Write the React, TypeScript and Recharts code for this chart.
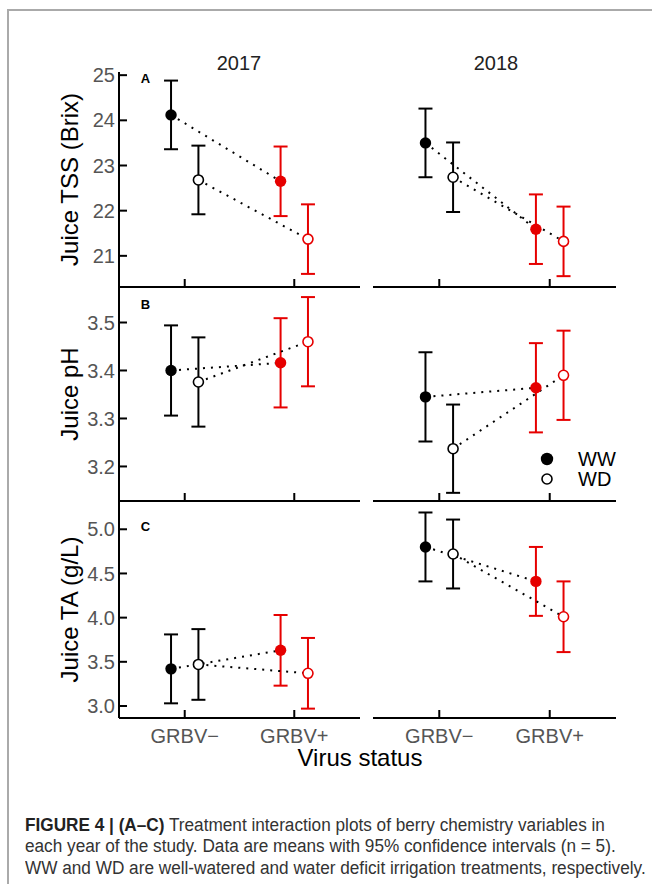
import React from 'react';
import { ScatterChart, Scatter, XAxis, YAxis, ErrorBar, Label } from 'recharts';

const VIRUS = ['GRBV−', 'GRBV+'];
const YEARS = ['2017', '2018'];
const TREATMENTS = ['WW', 'WD'];

// means, indexed [year][virus status]
const TSS_WW = [[24.12, 22.65], [23.5, 21.59]];
const TSS_WD = [[22.68, 21.37], [22.74, 21.32]];
const PH_WW = [[3.4, 3.416], [3.345, 3.364]];
const PH_WD = [[3.376, 3.46], [3.237, 3.39]];
const TA_WW = [[3.42, 3.63], [4.8, 4.41]];
const TA_WD = [[3.47, 3.37], [4.72, 4.01]];

// 95% CI half widths, same layout
const TSS_WW_CI = [[0.76, 0.77], [0.76, 0.77]];
const TSS_WD_CI = [[0.76, 0.77], [0.77, 0.77]];
const PH_WW_CI = [[0.094, 0.093], [0.093, 0.093]];
const PH_WD_CI = [[0.093, 0.093], [0.092, 0.093]];
const TA_WW_CI = [[0.39, 0.4], [0.39, 0.39]];
const TA_WD_CI = [[0.4, 0.4], [0.39, 0.4]];

const TSS_TICKS = [21, 22, 23, 24, 25];
const PH_TICKS = [3.2, 3.3, 3.4, 3.5];
const TA_TICKS = [3.0, 3.5, 4.0, 4.5, 5.0];

const BLACK = '#000';
const RED = '#e60000';
const VIRUS_COLORS = [BLACK, RED];
const DODGE = 0.125;
const X_DOMAIN = [0.4, 2.6];
const FONT = '"Liberation Sans", Arial, Helvetica, sans-serif';

const ROWS = [
  { label: 'Juice TSS (Brix)', letter: 'A', ww: TSS_WW, wd: TSS_WD, wwCi: TSS_WW_CI, wdCi: TSS_WD_CI, domain: [20.31, 25.07], ticks: TSS_TICKS, digits: 0, top: 72, h: 215, letterY: 79 },
  { label: 'Juice pH', letter: 'B', ww: PH_WW, wd: PH_WD, wwCi: PH_WW_CI, wdCi: PH_WD_CI, domain: [3.128, 3.574], ticks: PH_TICKS, digits: 1, top: 287, h: 214, letterY: 305 },
  { label: 'Juice TA (g/L)', letter: 'C', ww: TA_WW, wd: TA_WD, wwCi: TA_WW_CI, wdCi: TA_WD_CI, domain: [2.864, 5.32], ticks: TA_TICKS, digits: 1, top: 501, h: 217, letterY: 527 },
];

const COLS = [
  { left: 119, w: 241 },
  { left: 373, w: 243 },
];

function dot(open: boolean, color: string) {
  return (p: any) => (
    <circle
      cx={p.cx}
      cy={p.cy}
      r={open ? 5 : 5.7}
      fill={open ? '#fff' : color}
      stroke={color}
      strokeWidth={open ? 1.6 : 0}
    />
  );
}

function Panel({ row, col, year, showX }: any) {
  const showY = col === 0;
  const c = COLS[col];
  const yAxisW = showY ? 119 : 0;
  const xAxisH = showX ? 50 : 12;
  const mTop = 12;
  const width = yAxisW + c.w + 4;
  const height = mTop + row.h + xAxisH;

  const series = [
    { open: false, means: row.ww[year], ci: row.wwCi[year], off: -DODGE },
    { open: true, means: row.wd[year], ci: row.wdCi[year], off: DODGE },
  ];

  return (
    <div style={{ position: 'absolute', left: c.left - yAxisW, top: row.top - mTop }}>
      <ScatterChart width={width} height={height} margin={{ top: mTop, right: 4, bottom: 0, left: 0 }}>
        <XAxis
          type="number"
          dataKey="x"
          domain={X_DOMAIN}
          ticks={[1, 2]}
          interval={0}
          tickFormatter={(v: number) => VIRUS[v - 1]}
          height={xAxisH}
          axisLine={{ stroke: '#000', strokeWidth: 2 }}
          tickLine={{ stroke: '#000', strokeWidth: 2 }}
          tickSize={-8}
          tickMargin={19}
          tick={showX ? { fill: '#555', fontSize: 20 } : () => <g />}
        />
        <YAxis
          type="number"
          dataKey="y"
          domain={row.domain}
          ticks={row.ticks}
          interval={0}
          hide={!showY}
          width={yAxisW}
          tickFormatter={(v: number) => v.toFixed(row.digits)}
          axisLine={{ stroke: '#000', strokeWidth: 2 }}
          tickLine={{ stroke: '#000', strokeWidth: 2 }}
          tickSize={-8}
          tickMargin={12}
          tick={{ fill: '#555', fontSize: 20 }}
        >
          <Label
            value={row.label}
            angle={-90}
            position="insideLeft"
            offset={69}
            textAnchor="middle"
            style={{ textAnchor: 'middle', fontSize: 24, fill: '#000' }}
          />
        </YAxis>
        {series.map((s, i) => (
          <Scatter
            key={'line' + i}
            data={s.means.map((m: number, v: number) => ({ x: v + 1 + s.off, y: m }))}
            line={{ stroke: '#000', strokeWidth: 2, strokeDasharray: '2 6' }}
            shape={() => <g />}
            legendType="none"
            isAnimationActive={false}
          />
        ))}
        {series.map((s, i) =>
          s.means.map((m: number, v: number) => (
            <Scatter
              key={'pt' + i + v}
              data={[{ x: v + 1 + s.off, y: m, ci: s.ci[v] }]}
              shape={dot(s.open, VIRUS_COLORS[v])}
              legendType="none"
              isAnimationActive={false}
            >
              <ErrorBar dataKey="ci" direction="y" width={7} stroke={VIRUS_COLORS[v]} strokeWidth={2} />
            </Scatter>
          )),
        )}
      </ScatterChart>
    </div>
  );
}

const abs = (extra: React.CSSProperties): React.CSSProperties => ({ position: 'absolute', whiteSpace: 'nowrap', ...extra });

export default function App() {
  return (
    <div style={{ position: 'absolute', left: 0, top: 0, width: 652, height: 884, background: '#fff', fontFamily: FONT, overflow: 'hidden' }}>
      <div style={{ position: 'absolute', left: 7, top: 9, right: -2, bottom: -2, borderTop: '2px solid #aaa', borderLeft: '2px solid #aaa' }} />

      {YEARS.map((y, i) => (
        <div key={y} style={abs({ left: [239, 496][i] - 40, width: 80, top: 51, textAlign: 'center', fontSize: 20, lineHeight: '24px', color: '#222' })}>
          {y}
        </div>
      ))}

      {ROWS.map((row, r) =>
        YEARS.map((_, col) => (
          <Panel key={r + '-' + col} row={row} col={col} year={col} showX={r === ROWS.length - 1} />
        )),
      )}

      {ROWS.map((row) => (
        <div key={row.letter} style={abs({ left: 138, width: 15, top: row.letterY - 8, textAlign: 'center', fontSize: 13, fontWeight: 700, lineHeight: '16px', color: '#000' })}>
          {row.letter}
        </div>
      ))}

      {TREATMENTS.map((t, i) => (
        <div key={t} style={abs({ left: 538, top: 459 + i * 20 - 12, height: 24, display: 'flex', alignItems: 'center' })}>
          <svg width={20} height={24}>
            <circle cx={9} cy={12} r={i === 0 ? 6.2 : 5} fill={i === 0 ? '#000' : '#fff'} stroke="#000" strokeWidth={i === 0 ? 0 : 1.6} />
          </svg>
          <span style={{ marginLeft: 20, fontSize: 20, lineHeight: '24px', color: '#000' }}>{t}</span>
        </div>
      ))}

      <div style={abs({ left: 260, width: 200, top: 744, textAlign: 'center', fontSize: 24, lineHeight: '28px', color: '#000' })}>
        Virus status
      </div>

      <div
        style={abs({
          left: 25,
          top: 815,
          fontSize: 18,
          lineHeight: '21.3px',
          color: '#333',
          transform: 'scaleX(0.955)',
          transformOrigin: '0 0',
        })}
      >
        <div>
          <b style={{ color: '#222' }}>FIGURE 4 | (A–C)</b> Treatment interaction plots of berry chemistry variables in
        </div>
        <div>each year of the study. Data are means with 95% confidence intervals (n = 5).</div>
        <div>WW and WD are well-watered and water deficit irrigation treatments, respectively.</div>
      </div>
    </div>
  );
}
